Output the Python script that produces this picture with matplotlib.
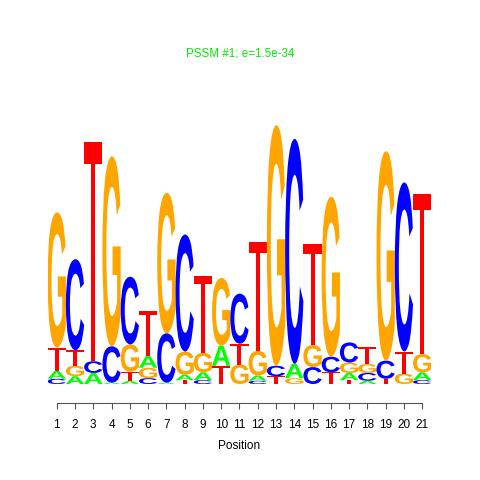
import matplotlib
matplotlib.use('Agg')
import matplotlib.pyplot as plt
from matplotlib.textpath import TextPath
from matplotlib.patches import PathPatch
from matplotlib.path import Path
from matplotlib.font_manager import FontProperties
from matplotlib.transforms import Affine2D

# letter heights (bits) per position
positions = list(range(1, 22))
A = [0.06, 0.06, 0.085, 0.01, 0.025, 0.09, 0.01, 0.04, 0.06, 0.155, 0.0,
     0.04, 0.0, 0.11, 0.0, 0.0, 0.055, 0.025, 0.0, 0.0, 0.06]
C = [0.04, 0.70, 0.09, 0.28, 0.52, 0.045, 0.38, 0.90, 0.03, 0.0, 0.385,
     0.025, 0.08, 1.73, 0.13, 0.12, 0.155, 0.06, 0.14, 1.30, 0.03]
G = [1.04, 0.08, 0.0, 1.46, 0.21, 0.08, 1.08, 0.18, 0.15, 0.52, 0.15,
     0.19, 1.85, 0.045, 0.17, 1.23, 0.08, 0.07, 1.61, 0.08, 0.14]
T = [0.18, 0.12, 1.69, 0.0, 0.07, 0.35, 0.0, 0.03, 0.59, 0.14, 0.16,
     0.84, 0.06, 0.0, 0.78, 0.09, 0.03, 0.13, 0.04, 0.17, 1.23]

colors = {'A': '#00ff00', 'C': '#0000ff', 'G': '#ffa500', 'T': '#ff0000'}
title = 'PSSM #1; e=1.5e-34'

plt.rcParams['font.family'] = ['Liberation Sans', 'DejaVu Sans']
fp = FontProperties(family='Liberation Sans', weight='bold')

fig = plt.figure(figsize=(4.8, 4.8), dpi=100)
ax = fig.add_axes([47.6 / 480, 96 / 480, 383.7 / 480, 2.2 * 130 / 480])

# T drawn like the logo: thin top bar, narrow stem (unit box)
t_verts = [(0, 1), (1, 1), (1, 0.9), (0.61, 0.9), (0.61, 0), (0.39, 0),
           (0.39, 0.9), (0, 0.9), (0, 1)]
t_path = Path(t_verts, [Path.MOVETO] + [Path.LINETO] * 7 + [Path.CLOSEPOLY])


def draw_letter(ch, x, y0, w, h):
    if ch == 'T':
        tp = t_path
    else:
        tp = TextPath((0, 0), ch, size=1, prop=fp)
    bb = tp.get_extents()
    tr = Affine2D().translate(-bb.x0, -bb.y0).scale(w / bb.width, h / bb.height).translate(x - w / 2, y0)
    ax.add_patch(PathPatch(tr.transform_path(tp), fc=colors[ch], ec='none', lw=0))


for i, pos in enumerate(positions):
    col = [('A', A[i]), ('C', C[i]), ('G', G[i]), ('T', T[i])]
    col.sort(key=lambda t: t[1])  # smallest at the bottom
    y = 0
    for ch, h in col:
        if h <= 0:
            continue
        draw_letter(ch, pos, y, 1.0, h)
        y += h

ax.set_xlim(0.5, 21.5)
ax.set_ylim(0, 2.2)
for s in ['top', 'right', 'left']:
    ax.spines[s].set_visible(False)
ax.spines['bottom'].set_position(('outward', 13.7))
ax.spines['bottom'].set_bounds(1, 21)
ax.spines['bottom'].set_color('#555555')
ax.spines['bottom'].set_linewidth(0.8)
ax.set_yticks([])
ax.set_xticks(positions)
ax.tick_params(axis='x', direction='out', length=4.3, width=0.8, color='#555555',
               pad=7, labelsize=8.5, labelcolor='black')
ax.set_xlabel('Position', fontsize=8.5, labelpad=7)

fig.text(0.5, 1 - 53 / 480, title, color='#00ee00', fontsize=8.4, ha='center', va='center')

fig.savefig('out.png', dpi=100)
